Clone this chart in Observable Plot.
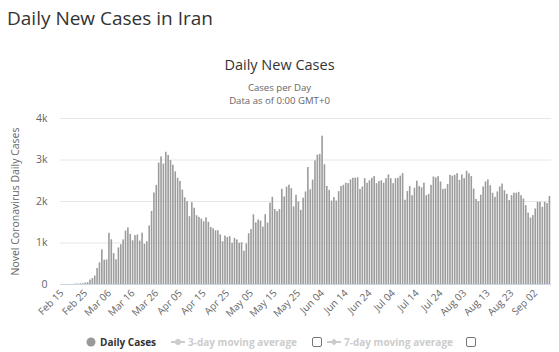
<!DOCTYPE html>
<html><head><meta charset="utf-8">
<script src="https://cdn.jsdelivr.net/npm/d3@7"></script>
<script src="https://cdn.jsdelivr.net/npm/@observablehq/plot@0.6"></script>
<style>
body{margin:0;background:#fff;font-family:"Open Sans",sans-serif;}
#wrap{position:relative;width:559px;height:352px;overflow:hidden;background:#fff;}
.t{position:absolute;white-space:nowrap;}
#chart{position:absolute;left:0;top:105px;}
#legend{position:absolute;left:0;top:328px;}
</style></head><body>
<div id="wrap">
  <div class="t" style="left:7px;top:5px;font-size:19px;color:#333;">Daily New Cases in Iran</div>
  <div class="t" style="left:0;width:559px;text-align:center;top:55px;font-size:14.5px;color:#333;">Daily New Cases</div>
  <div class="t" style="left:0;width:559px;text-align:center;top:83px;font-size:9.6px;line-height:10px;color:#666;">Cases per Day</div>
  <div class="t" style="left:0;width:559px;text-align:center;top:96px;font-size:9.6px;line-height:10px;color:#666;">Data as of 0:00 GMT+0</div>
  <div id="chart"></div>
  <svg id="legend" width="559" height="24"></svg>
</div>
<script>
// Daily new cases, Iran, from 2020-02-15 (one value per day)
const startDate = "2020-02-15";
const febCases = [0,0,0,0,2,3,13,10,15,18,34,44,106,143,205];
const marCases = [385,523,835,586,591,1234,1076,743,595,881,958,1075,1289,1365,1209,1053,1178,1192,1046,1237,966,1028,1411,1762,2206,2389,2926,3076,2901,3186,3110];
const aprCases = [2988,2875,2715,2560,2483,2274,2089,1997,1634,1972,1837,1657,1617,1574,1512,1606,1499,1374,1343,1294,1297,1194,1030,1168,1134,1153,991,1112,1073,993];
const mayCases = [1006,802,976,1223,1323,1680,1485,1556,1529,1383,1683,1481,1958,2102,1808,1757,1806,2294,2111,2346,2392,2311,1869,2150,1990,1787,2080,2229,2819,2282,2516];
const junCases = [2979,3117,3134,3574,2886,2364,2269,2011,2095,2011,2238,2360,2390,2440,2430,2520,2560,2560,2570,2290,2350,2550,2440,2500,2560,2600,2430,2480,2500,2440];
const julCases = [2550,2640,2550,2430,2550,2560,2610,2670,2030,2240,2360,2140,2320,2490,2360,2330,2440,2140,2170,2390,2590,2570,2600,2470,2290,2300,2410,2630,2610,2630,2670];
const augCases = [2510,2640,2550,2730,2670,2600,2300,2050,2000,2150,2350,2470,2520,2380,2200,2100,2230,2350,2420,2260,2170,2020,2140,2200,2200,2220,2140,2060,1900,1720,1600];
const sepCases = [1660,1820,1980,1980,1860,1980,1950,2120];

const tickLabels = ["Feb 15","Feb 25","Mar 06","Mar 16","Mar 26","Apr 05","Apr 15","Apr 25","May 05","May 15","May 25","Jun 04","Jun 14","Jun 24","Jul 04","Jul 14","Jul 24","Aug 03","Aug 13","Aug 23","Sep 02"];
const yTicks = [0,1000,2000,3000,4000];
const yTickLabels = ["0","1k","2k","3k","4k"];
const yTitle = "Novel Coronavirus Daily Cases";
const legendLabels = ["Daily Cases","3-day moving average","7-day moving average"];

const allCases = [...febCases,...marCases,...aprCases,...mayCases,...junCases,...julCases,...augCases,...sepCases];
const start = new Date(startDate + "T00:00:00Z");
const data = allCases.map((v,i)=>({key: d3.utcFormat("%Y-%m-%d")(d3.utcDay.offset(start,i)), cases: v}));
const keys = data.map(d=>d.key);
const tickKeys = tickLabels.map((_,i)=>keys[i*10]);
const tickMap = new Map(tickKeys.map((k,i)=>[k,tickLabels[i]]));
const yLabMap = new Map(yTicks.map((t,i)=>[t,yTickLabels[i]]));

const chart = Plot.plot({
  width: 559, height: 228,
  marginTop: 13, marginBottom: 49, marginLeft: 60, marginRight: 8,
  style: {fontFamily: "Open Sans, sans-serif", fontSize: "10px", color: "#666", background: "transparent", overflow: "visible"},
  x: {type: "band", domain: keys, padding: 0.32},
  y: {domain: [0, 4000]},
  marks: [
    Plot.gridY(yTicks.slice(1), {stroke: "#e6e6e6", strokeOpacity: 1}),
    Plot.barY(data, {x: "key", y: "cases", fill: "#9c9c9c"}),
    Plot.ruleY([0], {stroke: "#ccd6eb"}),
    Plot.axisY(yTicks, {tickSize: 0, tickPadding: 13, tickFormat: t=>yLabMap.get(t), label: null, fontSize: 10.5}),
    Plot.axisX(tickKeys, {tickSize: 0, tickPadding: 7, tickRotate: -45, tickFormat: k=>tickMap.get(k), label: null, fontSize: 10}),
    Plot.text([yTitle], {frameAnchor: "left", textAnchor: "middle", dx: -45, rotate: -90, fontSize: 10.5, fill: "#666"})
  ]
});
document.getElementById("chart").appendChild(chart);

// Legend
const lg = d3.select("#legend").style("font-family","Open Sans, sans-serif");
const cy = 14;
const fs = 10;
lg.append("circle").attr("cx",91).attr("cy",cy).attr("r",4.5).attr("fill","#999");
lg.append("text").attr("x",100).attr("y",cy+3.5).attr("font-size",fs).attr("font-weight","bold").attr("fill","#333").text(legendLabels[0]);
// 3-day
lg.append("line").attr("x1",171).attr("x2",185).attr("y1",cy).attr("y2",cy).attr("stroke","#ccc").attr("stroke-width",2);
lg.append("circle").attr("cx",178).attr("cy",cy).attr("r",3).attr("fill","#ccc");
lg.append("text").attr("x",188).attr("y",cy+3.5).attr("font-size",fs).attr("font-weight","bold").attr("fill","#ccc").text(legendLabels[1]);
lg.append("rect").attr("x",312.5).attr("y",cy-4.5).attr("width",9).attr("height",9).attr("rx",1.5).attr("fill","#fff").attr("stroke","#777");
// 7-day
lg.append("line").attr("x1",327).attr("x2",341).attr("y1",cy).attr("y2",cy).attr("stroke","#ccc").attr("stroke-width",2);
lg.append("path").attr("d",`M334,${cy-3.5}L337.5,${cy}L334,${cy+3.5}L330.5,${cy}Z`).attr("fill","#ccc");
lg.append("text").attr("x",344).attr("y",cy+3.5).attr("font-size",fs).attr("font-weight","bold").attr("fill","#ccc").text(legendLabels[2]);
lg.append("rect").attr("x",466.5).attr("y",cy-4.5).attr("width",9).attr("height",9).attr("rx",1.5).attr("fill","#fff").attr("stroke","#777");
</script>
</body></html>
